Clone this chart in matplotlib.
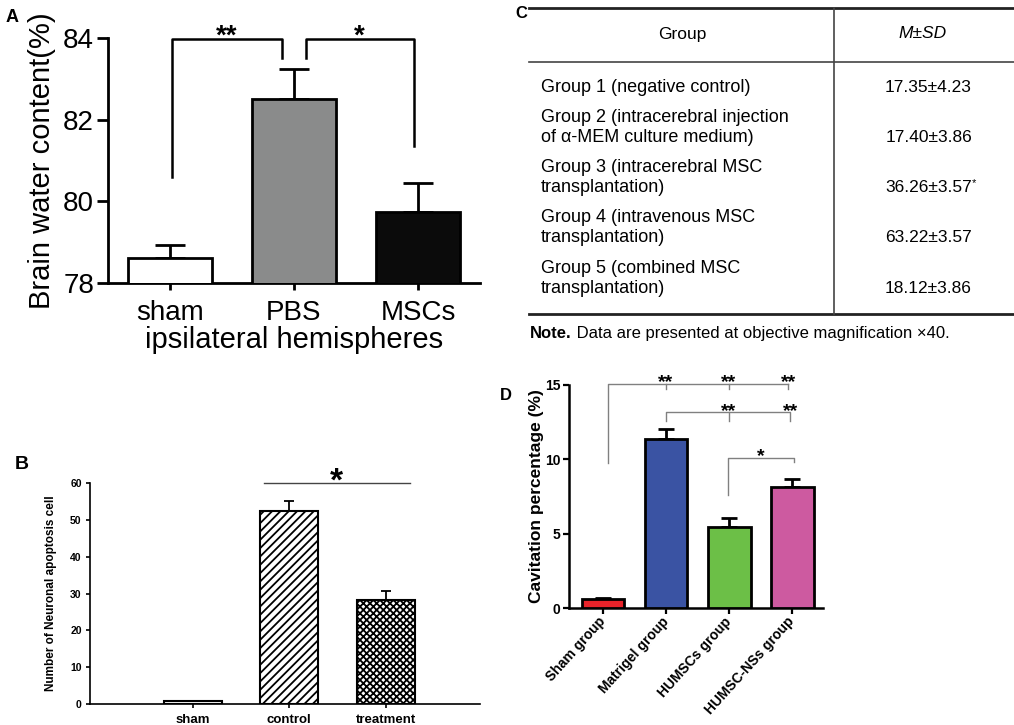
import matplotlib
matplotlib.use("Agg")
import matplotlib.pyplot as plt
import numpy as np

plt.rcParams["font.family"] = ["Liberation Sans", "DejaVu Sans"]
plt.rcParams["hatch.linewidth"] = 1.3

W, H = 1014, 725

# ---- panel A: brain water content ----
a_groups = ["sham", "PBS", "MSCs"]
a_mean = [78.62, 82.50, 79.75]
a_sd = [0.32, 0.73, 0.70]
a_colors = ["white", "#8a8b8b", "#0b0b0b"]

# ---- panel B: neuronal apoptosis ----
b_groups = ["sham", "control", "treatment"]
b_mean = [0.9, 52.5, 28.3]
b_sd = [0.0, 2.6, 2.4]
b_hatch = ["", "////", "xxxxx"]

# ---- panel C: table ----
c_groups = [
    ["Group 1 (negative control)"],
    ["Group 2 (intracerebral injection", "of \u03b1-MEM culture medium)"],
    ["Group 3 (intracerebral MSC", "transplantation)"],
    ["Group 4 (intravenous MSC", "transplantation)"],
    ["Group 5 (combined MSC", "transplantation)"],
]
c_values = ["17.35\u00b14.23", "17.40\u00b13.86", "36.26\u00b13.57", "63.22\u00b13.57", "18.12\u00b13.86"]
c_flags = ["", "", "*", "", ""]

# ---- panel D: cavitation ----
d_groups = ["Sham group", "Matrigel group", "HUMSCs group", "HUMSC-NSs group"]
d_mean = [0.58, 11.37, 5.42, 8.12]
d_sd = [0.11, 0.67, 0.61, 0.54]
d_colors = ["#e8232a", "#3a53a3", "#6cbf47", "#cd5aa0"]


def px_axes(fig, l, t, r, b):
    return fig.add_axes([l / W, 1 - b / H, (r - l) / W, (b - t) / H])


fig = plt.figure(figsize=(W / 100, H / 100), dpi=100)

# ================= A =================
axA = px_axes(fig, 108, 38, 480, 283)
xa = np.arange(len(a_groups))
axA.bar(xa, a_mean, width=0.67, color=a_colors, edgecolor="black", linewidth=2, zorder=3)
axA.errorbar(xa, a_mean, yerr=[np.zeros(len(xa)), a_sd], fmt="none", ecolor="black",
             elinewidth=2, capsize=11, capthick=2, zorder=2)
axA.set_ylim(78, 84)
axA.set_xlim(-0.5, 2.5)
axA.set_yticks([78, 80, 82, 84])
axA.set_xticks(xa)
axA.set_xticklabels(a_groups)
axA.tick_params(axis="y", labelsize=20, length=8, width=2, pad=2)
axA.tick_params(axis="x", labelsize=20, length=5, width=2, pad=7)
axA.spines[["top", "right"]].set_visible(False)
axA.spines[["left", "bottom"]].set_linewidth(2)
axA.set_ylabel("Brain water content(%)", fontsize=21)
axA.yaxis.set_label_coords(-0.14, 0.5)
axA.set_xlabel("ipsilateral hemispheres", fontsize=21, labelpad=0)
kw = dict(color="black", lw=1.8, clip_on=False)
axA.plot([0.02, 0.02, 0.9, 0.9], [80.6, 83.98, 83.98, 83.5], **kw)
axA.plot([1.1, 1.1, 1.97, 1.97], [83.5, 83.98, 83.98, 81.35], **kw)
axA.text(0.46, 83.86, "**", fontsize=20, fontweight="bold", ha="center", va="baseline")
axA.text(1.53, 83.86, "*", fontsize=20, fontweight="bold", ha="center", va="baseline")
fig.text(12 / W, 1 - 17 / H, "A", fontsize=13, fontweight="bold", ha="center", va="center")

# ================= B =================
axB = px_axes(fig, 90, 483, 480, 704)
xb = np.arange(len(b_groups))
for x, m, h in zip(xb, b_mean, b_hatch):
    axB.bar(x, m, width=0.6, color="white", edgecolor="black", linewidth=1.5,
            hatch=h, zorder=3)
axB.errorbar(xb, b_mean, yerr=[np.zeros(len(xb)), b_sd], fmt="none", ecolor="black",
             elinewidth=1.3, capsize=3.5, capthick=1.3, zorder=2)
axB.set_ylim(0, 60)
axB.set_xlim(-1.07, 2.98)
axB.set_yticks(range(0, 61, 10))
axB.set_xticks(xb)
axB.set_xticklabels(b_groups, fontweight="bold")
axB.set_yticklabels([str(v) for v in range(0, 61, 10)], fontweight="bold")
axB.tick_params(axis="y", labelsize=7.5, length=3, width=1.2, pad=3)
axB.tick_params(axis="x", labelsize=9.5, length=3, width=1.2, pad=4)
axB.spines[["top", "right"]].set_visible(False)
axB.spines[["left", "bottom"]].set_linewidth(1.2)
axB.set_ylabel("Number of Neuronal apoptosis cell", fontsize=8.5, fontweight="bold")
axB.yaxis.set_label_coords(-0.085, 0.5)
axB.plot([0.74, 2.25], [60, 60], color="#444444", lw=1, clip_on=False)
axB.text(1.49, 57.9, "*", fontsize=24, fontweight="bold", ha="center", va="baseline")
fig.text(22 / W, 1 - 465 / H, "B", fontsize=14, fontweight="bold", ha="center", va="center")

# ================= C (table) =================
axC = px_axes(fig, 510, 0, 1014, 345)
axC.set_xlim(510, 1014)
axC.set_ylim(345, 0)
axC.axis("off")
axC.plot([529, 1014], [8, 8], color="#222222", lw=2)
axC.plot([529, 1014], [62, 62], color="#444444", lw=1.2)
axC.plot([529, 1014], [314, 314], color="#222222", lw=2)
axC.plot([834, 834], [8, 314], color="#444444", lw=1.2)
axC.text(682, 34, "Group", fontsize=12.5, ha="center", va="center")
axC.text(923, 34, "M\u00b1SD", fontsize=12.5, style="italic", ha="center", va="center")
row_y = [87, 117, 167, 217, 268]
for y0, lines, val, flag in zip(row_y, c_groups, c_values, c_flags):
    for i, ln in enumerate(lines):
        axC.text(541, y0 + 20 * i, ln, fontsize=13, ha="left", va="center")
    yv = y0 + 20 * (len(lines) - 1)
    t = axC.text(972, yv, val, fontsize=12.5, ha="right", va="center")
    if flag:
        axC.annotate(flag, xy=(1, 0.75), xycoords=t, fontsize=8, ha="left", va="center")
tn = axC.text(530, 333, "Note.", fontsize=12, fontweight="bold", ha="left", va="center")
axC.annotate(" Data are presented at objective magnification \u00d740.", xy=(1, 0),
             xycoords=tn, fontsize=12, ha="left", va="bottom")
fig.text(521 / W, 1 - 14 / H, "C", fontsize=12, fontweight="bold", ha="center", va="center")

# ================= D =================
axD = px_axes(fig, 569, 385, 823, 608)
xd = np.arange(len(d_groups))
axD.bar(xd, d_mean, width=0.68, color=d_colors, edgecolor="black", linewidth=2, zorder=3)
axD.errorbar(xd, d_mean, yerr=[np.zeros(len(xd)), d_sd], fmt="none", ecolor="black",
             elinewidth=2, capsize=6, capthick=2, zorder=2)
axD.set_ylim(0, 15)
axD.set_xlim(-0.54, 3.49)
axD.set_yticks([0, 5, 10, 15])
axD.set_yticklabels(["0", "5", "10", "15"], fontweight="bold")
axD.set_xticks(xd)
axD.set_xticklabels(d_groups, fontweight="bold", rotation=48, ha="right",
                    rotation_mode="anchor", va="center")
axD.tick_params(axis="y", labelsize=10, length=4, width=1.6, pad=2)
axD.tick_params(axis="x", labelsize=10, length=4, width=1.6, pad=4)
axD.spines[["top", "right"]].set_visible(False)
axD.spines[["left", "bottom"]].set_linewidth(1.8)
axD.set_ylabel("Cavitation percentage (%)", fontsize=12.5, fontweight="bold")
axD.yaxis.set_label_coords(-0.10, 0.5)
gk = dict(color="#808080", lw=1, clip_on=False)
axD.plot([0.08, 0.08, 2.94], [9.76, 15.1, 15.1], **gk)
for x in [1, 2, 2.94]:
    axD.plot([x, x], [15.1, 14.7], **gk)
axD.plot([1, 1, 2.97, 2.97], [12.6, 13.2, 13.2, 12.6], **gk)
axD.plot([2, 2], [13.2, 12.6], **gk)
axD.plot([1.98, 1.98, 3.03, 3.03], [7.6, 10.1, 10.1, 9.8], **gk)
sk = dict(fontsize=14, fontweight="bold", ha="center", va="baseline", clip_on=False)
for x in [1, 2, 2.94]:
    axD.text(x, 14.86, "**", **sk)
for x in [2, 2.97]:
    axD.text(x, 12.9, "**", **sk)
axD.text(2.5, 9.9, "*", **sk)
fig.text(506 / W, 1 - 395 / H, "D", fontsize=12, fontweight="bold", ha="center", va="center")

fig.savefig("out.png", dpi=100)
